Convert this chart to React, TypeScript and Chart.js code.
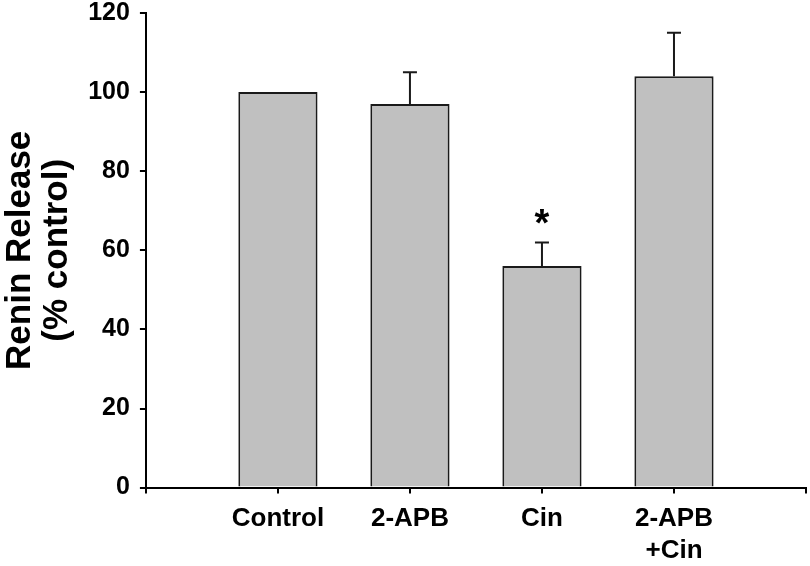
import React, { useEffect, useRef } from 'react';
import { Chart, registerables } from 'chart.js';

Chart.register(...registerables);

const categories: (string | string[])[] = ['Control', '2-APB', 'Cin', ['2-APB', '+Cin']];
const values: number[] = [100, 97, 56, 104];
const errors: number[] = [0, 8, 6, 11];
const significance: string[] = ['', '', '*', ''];
const yMin = 0;
const yMax = 120;
const yStep = 20;
const yTitle: string[] = ['Renin Release', '(% control)'];

const FONT = '"Liberation Sans", Arial, Helvetica, sans-serif';

const errorBarPlugin = {
  id: 'errorBars',
  afterDatasetsDraw(chart: any) {
    const { ctx, scales } = chart;
    const x = scales.x;
    const y = scales.y;
    ctx.save();
    ctx.strokeStyle = '#1a1a1a';
    ctx.fillStyle = '#000';
    ctx.lineWidth = 2;
    values.forEach((v, i) => {
      const px = x.getPixelForValue(i + 1);
      const top = y.getPixelForValue(v);
      let endY = top;
      if (errors[i] > 0) {
        endY = y.getPixelForValue(v + errors[i]);
        ctx.beginPath();
        ctx.moveTo(px, top);
        ctx.lineTo(px, endY);
        ctx.moveTo(px - 7, endY);
        ctx.lineTo(px + 7, endY);
        ctx.stroke();
      }
      if (significance[i]) {
        ctx.font = `bold 38px ${FONT}`;
        ctx.textAlign = 'center';
        ctx.textBaseline = 'alphabetic';
        ctx.fillText(significance[i], px, endY - 6);
      }
    });
    ctx.restore();
  },
};

export default function App() {
  const canvasRef = useRef<HTMLCanvasElement | null>(null);

  useEffect(() => {
    if (!canvasRef.current) return;
    Chart.defaults.font.family = FONT;
    const labels = ['', ...categories, ''];
    const data = [null, ...values, null];
    const chart = new Chart(canvasRef.current, {
      type: 'bar',
      data: {
        labels,
        datasets: [
          {
            data,
            backgroundColor: '#c0c0c0',
            borderColor: '#1a1a1a',
            borderWidth: 2,
            categoryPercentage: 1,
            barPercentage: 0.6,
          },
        ],
      },
      options: {
        animation: false,
        responsive: true,
        maintainAspectRatio: false,
        layout: { padding: { left: 0, right: 4, top: 0, bottom: -10 } },
        plugins: {
          legend: { display: false },
          tooltip: { enabled: false },
        },
        scales: {
          x: {
            offset: false,
            afterFit: (scale: any) => {
              scale.paddingRight = 0;
            },
            grid: {
              offset: false,
              drawOnChartArea: false,
              drawTicks: true,
              tickLength: 6,
              color: '#000',
              lineWidth: 2,
            },
            border: { color: '#000', width: 2 },
            ticks: {
              color: '#000',
              font: { size: 26, weight: 'bold', lineHeight: 1.2 },
              padding: 10,
              maxRotation: 0,
              autoSkip: false,
            },
          },
          y: {
            min: yMin,
            max: yMax,
            afterFit: (scale: any) => {
              scale.paddingTop = 13;
              scale.paddingBottom = 0;
            },
            grid: {
              drawOnChartArea: false,
              drawTicks: true,
              tickLength: 6,
              color: '#000',
              lineWidth: 2,
            },
            border: { color: '#000', width: 2 },
            ticks: {
              stepSize: yStep,
              color: '#000',
              font: { size: 25, weight: 'bold' },
              padding: 10,
            },
            title: {
              display: true,
              text: yTitle,
              color: '#000',
              font: { size: 35, weight: 'bold', lineHeight: 1.06 },
              padding: { top: 2, bottom: 2 },
            },
          },
        },
      },
      plugins: [errorBarPlugin],
    });
    return () => chart.destroy();
  }, []);

  return (
    <div style={{ position: 'absolute', left: 0, top: 0, width: 810, height: 566, background: '#fff' }}>
      <canvas ref={canvasRef} />
    </div>
  );
}
